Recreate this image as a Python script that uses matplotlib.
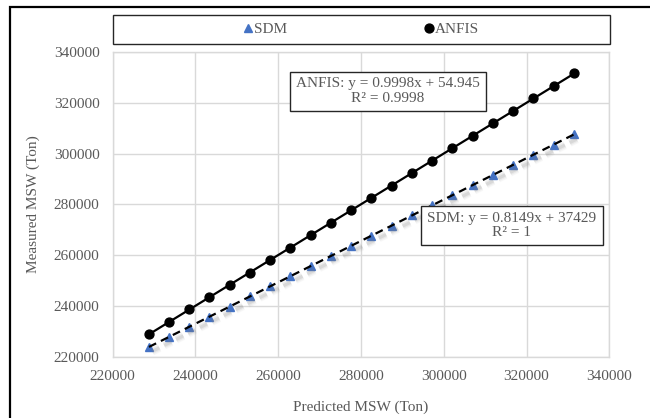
import numpy as np
import matplotlib
matplotlib.use("Agg")
import matplotlib.pyplot as plt
import matplotlib.patheffects as pe
from matplotlib.patches import Rectangle

plt.rcParams['font.family'] = ['Liberation Serif', 'DejaVu Serif']

# Predicted vs measured municipal solid waste (tons)
predicted = [228760, 233640, 238510, 243390, 248280, 253170, 258050, 262940,
             267830, 272720, 277610, 282500, 287390, 292290, 297180, 302070,
             306970, 311860, 316760, 321660, 326560, 331460]
measured_anfis = [229010, 233600, 238620, 243330, 248390, 253090, 258140, 262880,
                  267910, 272650, 277700, 282560, 287330, 292400, 297120, 302180,
                  306900, 311950, 316700, 321750, 326480, 331550]
measured_sdm = [223845, 227822, 231791, 235767, 239752, 243737, 247714, 251699,
                255684, 259669, 263653, 267638, 271623, 275616, 279601, 283586,
                287579, 291564, 295557, 299550, 303543, 307536]

series_names = ["SDM", "ANFIS"]
anfis_eq = "ANFIS: y = 0.9998x + 54.945\nR\u00b2 = 0.9998"
sdm_eq = "SDM: y = 0.8149x + 37429\nR\u00b2 = 1"
x_ticks = [220000, 240000, 260000, 280000, 300000, 320000, 340000]
y_ticks = [220000, 240000, 260000, 280000, 300000, 320000, 340000]

TXT = '#595959'
GRID = '#D9D9D9'
FS = 11

W, H = 650, 418
fig = plt.figure(figsize=(W / 100, H / 100), dpi=100)
ax = fig.add_axes([112.7 / W, 1 - 356.7 / H, (609.3 - 112.7) / W, (356.7 - 52) / H])

x = np.array(predicted, dtype=float)
ya = np.array(measured_anfis, dtype=float)
ys = np.array(measured_sdm, dtype=float)

# data markers
h_sdm, = ax.plot(x, ys, ls='none', marker='^', ms=5.5, color='#4472C4',
                 mec='#4472C4', zorder=3, label=series_names[0])
h_anfis, = ax.plot(x, ya, ls='none', marker='o', ms=6.4, color='black',
                   zorder=3, label=series_names[1])

# linear trendlines
xs = np.array([x.min(), x.max()])
pa = np.polyfit(x, ya, 1)
ps = np.polyfit(x, ys, 1)
ax.plot(xs, np.polyval(pa, xs), color='black', lw=1.6, zorder=4)
shadow = [pe.SimpleLineShadow(offset=(2.4, -3.2), shadow_color='0.5', alpha=0.07, rho=1, linewidth=6.0),
          pe.SimpleLineShadow(offset=(2.4, -3.2), shadow_color='0.5', alpha=0.10, rho=1, linewidth=4.0),
          pe.SimpleLineShadow(offset=(2.4, -3.2), shadow_color='0.5', alpha=0.16, rho=1, linewidth=2.2),
          pe.Normal()]
ax.plot(xs, np.polyval(ps, xs), color='black', lw=1.6, ls=(0, (3.6, 2.4)),
        zorder=4, path_effects=shadow)

ax.set_xlim(220000, 340000)
ax.set_ylim(220000, 340000)
ax.set_xticks(x_ticks)
ax.set_yticks(y_ticks)
ax.set_xticklabels([str(v) for v in x_ticks])
ax.set_yticklabels([str(v) for v in y_ticks])
ax.tick_params(length=0, labelsize=FS, labelcolor=TXT, pad=9.5)
ax.grid(True, color=GRID, lw=1.0)
ax.set_axisbelow(True)
for s in ax.spines.values():
    s.set_color(GRID)
    s.set_linewidth(1.0)

ax.set_xlabel("Predicted MSW (Ton)", fontsize=FS, color=TXT, labelpad=13)
ax.set_ylabel("Measured MSW (Ton)", fontsize=FS, color=TXT, labelpad=10)


def eq_box(left, top, right, bottom, text):
    fig.patches.append(Rectangle((left / W, 1 - bottom / H), (right - left) / W,
                                 (bottom - top) / H, transform=fig.transFigure,
                                 fc='white', ec='#262626', lw=1.0, zorder=6))
    fig.text((left + right) / 2 / W, 1 - (top + bottom) / 2 / H, text, ha='center',
             va='center', fontsize=FS, color=TXT, linespacing=1.15, zorder=7)


# trendline equations
eq_box(290, 71.7, 486, 110.7, anfis_eq)
eq_box(421, 206, 603, 245, sdm_eq)

# legend frame across the top
fig.patches.append(Rectangle((112.7 / W, 1 - 43.5 / H), (610 - 112.7) / W, 28.5 / H,
                             transform=fig.transFigure, fc='white', ec='#262626', lw=1.0))
fig.legend(handles=[h_sdm, h_anfis], loc='center', bbox_to_anchor=(361 / W, 1 - 29 / H),
           ncol=2, frameon=False, fontsize=FS, labelcolor=TXT, handlelength=0.6,
           handletextpad=0.1, columnspacing=9.0, borderpad=0)

# outer chart border
fig.patches.append(Rectangle((10 / W, -0.1), 1.2, 1 - 6.7 / H + 0.1,
                             transform=fig.transFigure, fill=False, ec='black', lw=1.6))

fig.savefig("out.png", dpi=100)
